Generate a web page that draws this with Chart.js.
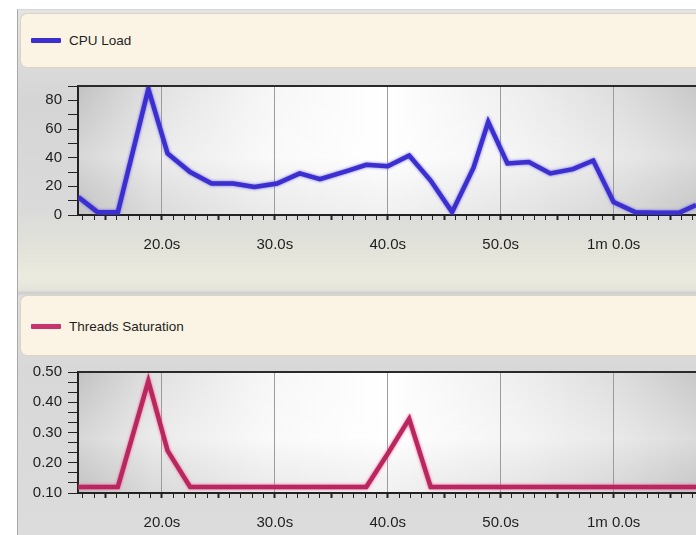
<!DOCTYPE html>
<html>
<head>
<meta charset="utf-8">
<title>CPU Load / Threads Saturation</title>
<script src="https://cdn.jsdelivr.net/npm/chart.js@4.4.1/dist/chart.umd.min.js"></script>
<style>
html, body { margin: 0; padding: 0; width: 696px; height: 535px; overflow: hidden; background: #fff; }
body { position: relative; font-family: 'Liberation Sans', Arial, sans-serif; }
#panel {
    position: absolute; left: 17px; top: 9px; width: 700px; height: 526px;
    border-left: 1px solid #a8a8a8; border-top: 1px solid #d6d6d6;
    background: linear-gradient(to bottom, #e4e4e4 0px, #d5d5d5 90px, #dadada 200px, #e3e3da 240px,
        #ecebdf 268px, #e4e4dc 280px, #cdcdcd 283px, #dedede 286px, #d8d8d8 360px, #dcdcdc 526px);
}
.band {
    position: absolute; left: 20px; width: 690px;
    background: #fbf4e4; border: 1px solid #d9d4c4; border-right: none;
    border-radius: 7px 0 0 7px; box-sizing: border-box;
}
.swatch { position: absolute; left: 10px; width: 30px; height: 5px; border-radius: 1px; }
.label { position: absolute; left: 48px; font-size: 13.5px; color: #1e1e1e; line-height: 16px; }
.box { position: absolute; left: 20px; width: 676px; }
</style>
</head>
<body>
<div id="panel"></div>

<div class="band" style="top:13px; height:55px;">
    <div class="swatch" style="top:24px; background:#3b2fcf;"></div>
    <div class="label" style="top:19px;">CPU Load</div>
</div>
<div class="box" style="top:68px; height:194px;"><canvas id="cpuChart"></canvas></div>

<div class="band" style="top:295px; height:61px;">
    <div class="swatch" style="top:28px; background:#c8336e;"></div>
    <div class="label" style="top:23px;">Threads Saturation</div>
</div>
<div class="box" style="top:356px; height:179px;"><canvas id="threadChart"></canvas></div>

<script>
// sample times in seconds
var Times = [12.6, 14.3, 16.1, 18.8, 20.5, 22.5, 24.4, 26.3, 28.2, 30.2,
             32.2, 34.0, 36.5, 38.1, 40.0, 41.9, 43.8, 45.7, 47.6, 48.9,
             50.6, 52.5, 54.4, 56.4, 58.2, 60.0, 61.9, 63.9, 65.8, 67.3];

var CpuLoad = [12.5, 2, 2, 88, 43, 30, 22, 22, 19.5, 22,
               29, 25, 31, 35, 34, 41.5, 24, 2, 33, 65,
               36, 37, 29, 32, 38, 9, 2, 1.5, 1.5, 7];

var ThreadsSat = [0.12, 0.12, 0.12, 0.47, 0.24, 0.12, 0.12, 0.12, 0.12, 0.12,
                  0.12, 0.12, 0.12, 0.12, 0.23, 0.345, 0.12, 0.12, 0.12, 0.12,
                  0.12, 0.12, 0.12, 0.12, 0.12, 0.12, 0.12, 0.12, 0.12, 0.12];

var xTickValues = [20, 30, 40, 50, 60];
var xTickLabels = ['20.0s', '30.0s', '40.0s', '50.0s', '1m 0.0s'];

var cpuTickValues = [0, 20, 40, 60, 80];
var cpuTickLabels = ['0', '20', '40', '60', '80'];

var satTickValues = [0.1, 0.2, 0.3, 0.4, 0.5];
var satTickLabels = ['0.10', '0.20', '0.30', '0.40', '0.50'];

var X_MIN = 12.57, X_MAX = 67.3;

Chart.defaults.font.family = "'Liberation Sans', Arial, sans-serif";
Chart.defaults.font.size = 15;
Chart.defaults.color = '#1e1e1e';

// gray-white shaded plot background + top border
const plotFrame = {
    id: 'plotFrame',
    beforeDraw(chart) {
        const a = chart.chartArea, c = chart.ctx;
        const g = c.createLinearGradient(a.left, 0, a.right, 0);
        g.addColorStop(0, '#c2c2c2');
        g.addColorStop(0.12, '#e0e0e0');
        g.addColorStop(0.3, '#f6f6f6');
        g.addColorStop(0.5, '#ffffff');
        g.addColorStop(0.72, '#eeeeee');
        g.addColorStop(0.88, '#dcdcdc');
        g.addColorStop(1, '#c8c8c8');
        c.save();
        c.fillStyle = g;
        c.fillRect(a.left, a.top, a.right - a.left, a.bottom - a.top);
        const v = c.createLinearGradient(0, a.top, 0, a.bottom);
        v.addColorStop(0, 'rgba(255,255,255,0.0)');
        v.addColorStop(0.55, 'rgba(255,255,255,0.35)');
        v.addColorStop(1, 'rgba(200,200,200,0.25)');
        c.fillStyle = v;
        c.fillRect(a.left, a.top, a.right - a.left, a.bottom - a.top);
        c.restore();
    },
    afterDraw(chart) {
        const a = chart.chartArea, c = chart.ctx;
        c.save();
        c.strokeStyle = '#2a2a2a';
        c.lineWidth = 2;
        c.beginPath();
        c.moveTo(a.left, a.top);
        c.lineTo(a.right, a.top);
        c.stroke();
        c.restore();
    }
};

// soft halo under the series line
const lineGlow = {
    id: 'lineGlow',
    beforeDatasetDraw(chart, args) {
        const ds = chart.data.datasets[args.index];
        chart.ctx.save();
        chart.ctx.shadowColor = ds.glowColor;
        chart.ctx.shadowBlur = 3;
    },
    afterDatasetDraw(chart) {
        chart.ctx.restore();
    }
};

function pairs(xs, ys) {
    return xs.map(function (x, i) { return { x: x, y: ys[i] }; });
}

function xScale(axisHeight) {
    return {
        type: 'linear',
        min: X_MIN,
        max: X_MAX,
        afterBuildTicks: function (scale) {
            var t = [];
            for (var s = 13; s <= 67; s++) t.push({ value: s });
            scale.ticks = t;
        },
        afterFit: function (scale) {
            scale.height = axisHeight;
            scale.paddingLeft = 0;
            scale.paddingRight = 0;
        },
        ticks: {
            autoSkip: false,
            maxRotation: 0,
            padding: 16,
            color: '#1e1e1e',
            callback: function (v) {
                var i = xTickValues.indexOf(v);
                return i >= 0 ? xTickLabels[i] : '';
            }
        },
        grid: {
            color: function (ctx) {
                return ctx.tick && ctx.tick.value % 10 === 0 ? '#9c9c9c' : 'rgba(0,0,0,0)';
            },
            lineWidth: 1,
            tickColor: '#222',
            tickLength: 5,
            tickWidth: function (ctx) {
                return ctx.tick && ctx.tick.value % 5 === 0 ? 2 : 1;
            }
        },
        border: { color: '#222', width: 2 }
    };
}

function yScale(min, max, minorStep, tickValues, tickLabels) {
    return {
        type: 'linear',
        min: min,
        max: max,
        afterBuildTicks: function (scale) {
            var t = [];
            var n = Math.round((max - min) / minorStep);
            for (var k = 0; k <= n; k++) t.push({ value: +(min + k * minorStep).toFixed(4) });
            scale.ticks = t;
        },
        afterFit: function (scale) { scale.width = 58; },
        ticks: {
            autoSkip: false,
            padding: 6,
            color: '#1e1e1e',
            callback: function (v) {
                for (var i = 0; i < tickValues.length; i++) {
                    if (Math.abs(tickValues[i] - v) < 1e-6) return tickLabels[i];
                }
                return '';
            }
        },
        grid: {
            drawOnChartArea: false,
            tickColor: '#222',
            tickLength: 10
        },
        border: { color: '#222', width: 2 }
    };
}

function makeChart(id, label, values, color, glow, yOpts, padTop, axisHeight) {
    return new Chart(document.getElementById(id), {
        type: 'line',
        data: {
            datasets: [{
                label: label,
                data: pairs(Times, values),
                borderColor: color,
                glowColor: glow,
                borderWidth: 4.5,
                pointRadius: 0,
                tension: 0,
                fill: false
            }]
        },
        options: {
            responsive: true,
            maintainAspectRatio: false,
            animation: false,
            layout: { padding: { top: padTop, left: 0, right: 0, bottom: 0 } },
            plugins: { legend: { display: false }, tooltip: { enabled: false } },
            scales: { x: xScale(axisHeight), y: yOpts }
        },
        plugins: [plotFrame, lineGlow]
    });
}

makeChart('cpuChart', 'CPU Load', CpuLoad, '#3b2fcf', 'rgba(90,80,230,0.9)',
    yScale(0, 90, 10, cpuTickValues, cpuTickLabels), 18, 47);

makeChart('threadChart', 'Threads Saturation', ThreadsSat, '#b8285f', 'rgba(240,90,150,1)',
    yScale(0.1, 0.5, 0.1 / 3, satTickValues, satTickLabels), 16, 42);
</script>
</body>
</html>
